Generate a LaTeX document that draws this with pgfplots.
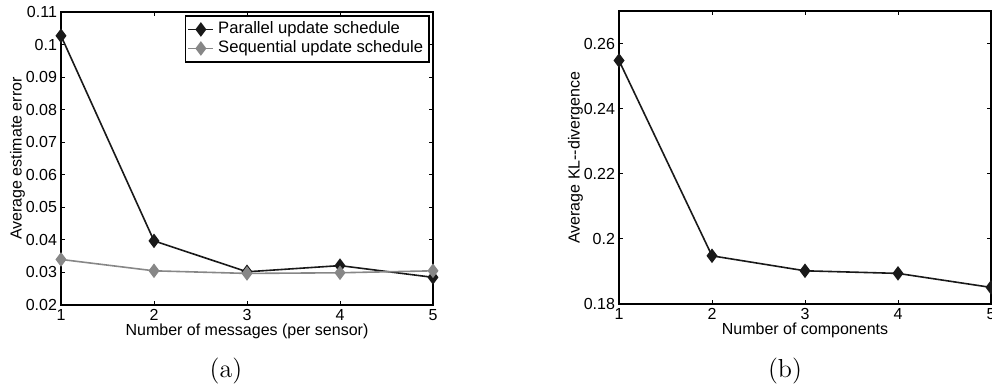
\documentclass[border=0pt]{standalone}
\usepackage{pgfplots}
\pgfplotsset{compat=1.18}
\usepackage{fontspec}
\newfontfamily\arial{Liberation Sans}
\definecolor{dk}{RGB}{25,25,25}
\definecolor{gr}{RGB}{135,135,135}
\pgfplotsset{
  mystyle/.style={
    scale only axis, width=186pt, height=146.5pt,
    xmin=1, xmax=5, xtick={1,2,3,4,5},
    tick align=inside, major tick length=2pt,
    axis line style={line width=1pt},
    every tick/.style={black, line width=0.4pt},
    tick label style={font=\arial\fontsize{8}{9}\selectfont},
    /pgf/number format/assume math mode=true,
    label style={font=\arial\fontsize{8}{9}\selectfont},
    xticklabel style={yshift=1.5pt},
    yticklabel style={xshift=1.5pt},
    xlabel style={yshift=5pt},
    ylabel style={yshift=-6.5pt},
  }
}
\begin{document}
\begin{tikzpicture}
\useasboundingbox (0,0) rectangle (496pt,193.5pt);
\clip (0,0) rectangle (496pt,193.5pt);
\begin{axis}[mystyle, at={(30.5pt,41pt)}, anchor=south west,
  ymin=0.02, ymax=0.11, ytick={0.02,0.03,0.04,0.05,0.06,0.07,0.08,0.09,0.1,0.11},
  yticklabels={0.02,0.03,0.04,0.05,0.06,0.07,0.08,0.09,0.1,0.11},
  xlabel={Number of messages (per sensor)}, ylabel={Average estimate error},
  legend style={at={(1,1)}, anchor=north east, xshift=-1.5pt, yshift=-1.5pt,
    font=\arial\fontsize{8.3}{9}\selectfont, draw=black, line width=0.9pt,
    inner sep=1pt, row sep=-2pt, cells={anchor=west}},
  legend image code/.code={\draw[mark repeat=2,mark phase=2] plot coordinates {(0cm,0cm)(0.22cm,0cm)(0.44cm,0cm)};},
]
\addplot[dk, line width=0.8pt, mark=diamond*, mark size=3pt, mark options={solid}] coordinates {
(1,0.1027) (2,0.0397) (3,0.0302) (4,0.0321) (5,0.0285)};
\addlegendentry{Parallel update schedule}
\addplot[gr, line width=0.8pt, mark=diamond*, mark size=3pt, mark options={solid}] coordinates {
(1,0.0340) (2,0.0305) (3,0.0297) (4,0.0299) (5,0.0305)};
\addlegendentry{Sequential update schedule}
\end{axis}
\begin{axis}[mystyle, at={(309.5pt,41.5pt)}, anchor=south west,
  ymin=0.18, ymax=0.27, ytick={0.18,0.2,0.22,0.24,0.26},
  yticklabels={0.18,0.2,0.22,0.24,0.26},
  xlabel={Number of components}, ylabel={Average KL--divergence},
]
\addplot[dk, line width=0.8pt, mark=diamond*, mark size=3pt] coordinates {
(1,0.2548) (2,0.1948) (3,0.1902) (4,0.1894) (5,0.1851)};
\end{axis}
\node[anchor=base, font=\fontsize{13}{15}\selectfont] at (113pt,5pt) {(a)};
\node[anchor=base, font=\fontsize{13}{15}\selectfont] at (392.5pt,5pt) {(b)};
\end{tikzpicture}
\end{document}
